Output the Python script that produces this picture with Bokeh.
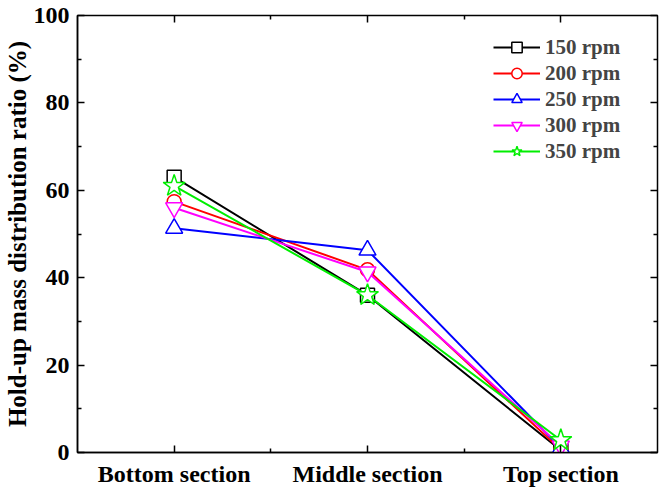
from bokeh.plotting import figure
from bokeh.models import (FixedTicker, LinearAxis, Legend, LegendItem, Range1d)
from bokeh.embed import file_html
from bokeh.resources import INLINE

# Hold-up mass distribution by column section for each agitation speed
categories = ["Bottom section", "Middle section", "Top section"]
series_labels = ["150 rpm", "200 rpm", "250 rpm", "300 rpm", "350 rpm"]
rpm150 = [63.0, 36.0, 0.5]
rpm200 = [57.4, 41.8, 0.6]
rpm250 = [51.3, 46.3, 1.0]
rpm300 = [56.0, 41.3, 1.5]
rpm350 = [61.0, 36.0, 2.8]
y_ticks = [0, 20, 40, 60, 80, 100]

colors = ["#000000", "#ff0000", "#0000ff", "#ff00ff", "#00ee00"]
markers = ["square", "circle", "triangle", "inverted_triangle", "star"]
sizes = [14, 14, 17, 17, 23]
values = [rpm150, rpm200, rpm250, rpm300, rpm350]

FONT = "Liberation Serif"
xs = [i + 1 for i in range(len(categories))]

p = figure(width=659, height=489, output_backend="svg", toolbar_location=None,
           x_range=Range1d(0.5, 3.5), y_range=Range1d(y_ticks[0], y_ticks[-1]),
           min_border_left=72, min_border_top=15, min_border_right=2,
           min_border_bottom=36, background_fill_color="white",
           border_fill_color="white")
p.grid.visible = False
p.outline_line_color = "black"
p.outline_line_width = 1.5

# bottom axis with category labels
xa = p.xaxis[0]
xa.ticker = FixedTicker(ticks=xs, minor_ticks=[1.5, 2.5])
xa.major_label_overrides = {x: c for x, c in zip(xs, categories)}
ya = p.yaxis[0]
ya.ticker = FixedTicker(ticks=y_ticks, minor_ticks=[10, 30, 50, 70, 90])
ya.axis_label = "Hold-up mass distribution ratio (%)"

for ax in (xa, ya):
    ax.axis_line_width = 1.5
    ax.major_tick_in = 7
    ax.major_tick_out = 0
    ax.minor_tick_in = 4
    ax.minor_tick_out = 0
    ax.major_tick_line_width = 1.5
    ax.minor_tick_line_width = 1.5
    ax.major_label_text_font = FONT
    ax.major_label_text_font_style = "bold"
    ax.major_label_text_font_size = "24px"
    ax.major_label_text_color = "black"
    ax.major_label_standoff = 8
ya.axis_label_text_font = FONT
ya.axis_label_text_font_style = "bold"
ya.axis_label_text_font_size = "25px"
ya.axis_label_text_color = "black"
ya.axis_label_standoff = 0

# mirrored tick marks on top and right, without labels
top = LinearAxis(ticker=FixedTicker(ticks=xs, minor_ticks=[1.5, 2.5]))
right = LinearAxis(ticker=FixedTicker(ticks=y_ticks, minor_ticks=[10, 30, 50, 70, 90]))
for ax in (top, right):
    ax.axis_line_color = None
    ax.major_tick_in = 7
    ax.major_tick_out = 0
    ax.minor_tick_in = 4
    ax.minor_tick_out = 0
    ax.major_tick_line_width = 1.5
    ax.minor_tick_line_width = 1.5
    ax.major_label_text_font_size = "1px"
    ax.major_label_text_color = None
    ax.major_label_standoff = 0
p.add_layout(top, "above")
p.add_layout(right, "right")

items = []
for lab, col, mk, sz, ys in zip(series_labels, colors, markers, sizes, values):
    ln = p.line(xs, ys, line_color=col, line_width=2)
    sc = p.scatter(xs, ys, marker=mk, size=sz, line_color=col,
                   fill_color="white", line_width=1.5)
    items.append(LegendItem(label=lab, renderers=[ln, sc]))

legend = Legend(items=items, location=(416, 288), padding=0, margin=0,
                border_line_color=None, background_fill_alpha=0,
                glyph_width=47, glyph_height=26, spacing=0, label_standoff=5,
                label_text_font=FONT, label_text_font_style="bold",
                label_text_font_size="21px", label_height=20)
p.add_layout(legend)

open("out.html", "w").write(file_html(p, INLINE))
